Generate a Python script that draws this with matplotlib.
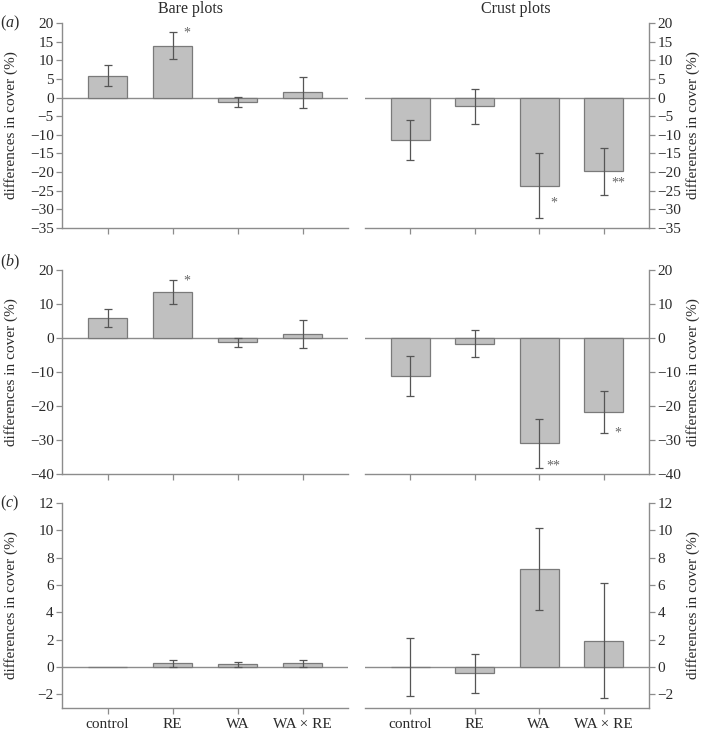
import numpy as np
import matplotlib
matplotlib.use("Agg")
import matplotlib.pyplot as plt

plt.rcParams['font.family'] = ['Liberation Serif', 'DejaVu Serif']
plt.rcParams['mathtext.fontset'] = 'custom'
plt.rcParams['mathtext.it'] = 'Liberation Serif:italic'
plt.rcParams['mathtext.rm'] = 'Liberation Serif'

categories = ['control', 'RE', 'WA', 'WA \u00d7 RE']

# row a
bare_a = [5.9, 13.9, -1.2, 1.4]
bare_a_err = [2.7, 3.6, 1.4, 4.2]
crust_a = [-11.4, -2.3, -23.6, -19.8]
crust_a_err = [5.3, 4.7, 8.7, 6.35]
# row b
bare_b = [5.8, 13.6, -1.3, 1.2]
bare_b_err = [2.7, 3.5, 1.3, 4.0]
crust_b = [-11.3, -1.7, -31.0, -21.8]
crust_b_err = [5.9, 4.0, 7.2, 6.15]
# row c
bare_c = [0.0, 0.27, 0.2, 0.27]
bare_c_err = [0.0, 0.25, 0.17, 0.25]
crust_c = [0.0, -0.45, 7.2, 1.93]
crust_c_err = [2.1, 1.43, 3.0, 4.23]

# significance stars: (panel, category, text, y)
stars = [
    ('a_bare', 1, '*', 17.2),
    ('a_crust', 2, '*', -28.2),
    ('a_crust', 3, '**', -23.0),
    ('b_bare', 1, '*', 16.8),
    ('b_crust', 2, '**', -37.6),
    ('b_crust', 3, '*', -27.9),
]

W, H = 701, 734
fig = plt.figure(figsize=(W / 100, H / 100), dpi=100)

bar_fc = '#c0c0c0'
bar_ec = '#7a7a7a'
err_c = '#555555'
line_c = '#8c8c8c'
txt_c = '#2b2b2b'

cols = {'bare': (62, 348), 'crust': (365, 649)}
rows = {'a': (23, 228, (-35, 20), np.arange(-35, 21, 5)),
        'b': (270, 474, (-40, 20), np.arange(-40, 21, 10)),
        'c': (503, 708, (-3, 12), np.arange(-2, 13, 2))}

data = {
    ('a', 'bare'): (bare_a, bare_a_err),
    ('a', 'crust'): (crust_a, crust_a_err),
    ('b', 'bare'): (bare_b, bare_b_err),
    ('b', 'crust'): (crust_b, crust_b_err),
    ('c', 'bare'): (bare_c, bare_c_err),
    ('c', 'crust'): (crust_c, crust_c_err),
}

x = np.arange(len(categories))
for (r, c), (vals, errs) in data.items():
    top, bot, ylim, yt = rows[r]
    x0, x1 = cols[c]
    ax = fig.add_axes([x0 / W, 1 - bot / H, (x1 - x0) / W, (bot - top) / H])
    ax.axhline(0, color=line_c, lw=1.0, zorder=1)
    ax.bar(x, vals, width=0.6, color=bar_fc, edgecolor=bar_ec, lw=0.9, zorder=2)
    e = np.array(errs)
    mask = e > 0
    ax.errorbar(x[mask], np.array(vals)[mask], yerr=e[mask], fmt='none',
                ecolor=err_c, elinewidth=0.9, capsize=3, capthick=0.9, zorder=3)
    ax.set_xlim(-0.7, 3.7)
    ax.set_ylim(*ylim)
    ax.set_yticks(yt)
    ax.set_xticks(x)
    if r == 'c':
        ax.set_xticklabels(categories, fontsize=11, color=txt_c)
    else:
        ax.set_xticklabels([])
    ax.spines['top'].set_visible(False)
    for s in ax.spines.values():
        s.set_color(line_c)
        s.set_linewidth(1.0)
    ax.tick_params(colors=line_c, labelcolor=txt_c, labelsize=11, length=4, width=0.9)
    ax.tick_params(axis='x', pad=3.5)
    ax.tick_params(axis='y', pad=2)
    ax.set_ylabel('differences in cover (%)', fontsize=11, color=txt_c, rotation=90)
    if c == 'bare':
        ax.spines['right'].set_visible(False)
        ax.yaxis.set_label_coords((18 - x0) / (x1 - x0), 0.5)
    else:
        ax.spines['left'].set_visible(False)
        ax.yaxis.tick_right()
        ax.yaxis.set_label_position('right')
        ax.yaxis.set_label_coords((686 - x0) / (x1 - x0), 0.5)
    key = r + '_' + c
    for p, i, s, yy in stars:
        if p == key:
            ax.text(i + 0.22, yy, s, fontsize=10, color='#666666', ha='center', va='center')

fig.text(190 / W, 1 - 9 / H, 'Bare plots', ha='center', va='center', fontsize=11.5, color=txt_c)
fig.text(516 / W, 1 - 9 / H, 'Crust plots', ha='center', va='center', fontsize=11.5, color=txt_c)
for lab, yy in [('a', 23), ('b', 262), ('c', 503)]:
    fig.text(10 / W, 1 - yy / H, r'($\it{' + lab + '}$)', ha='center', va='center',
             fontsize=11.5, color=txt_c)

fig.savefig('out.png', dpi=100)
